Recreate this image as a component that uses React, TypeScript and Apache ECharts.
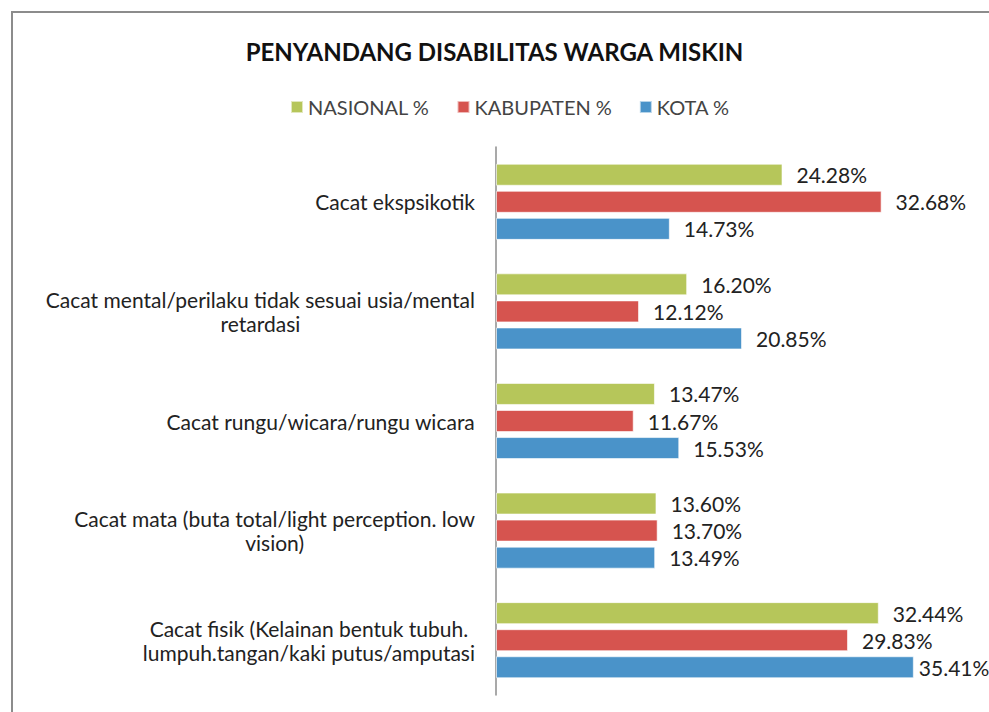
import React, { useEffect, useRef } from "react";
import * as echarts from "echarts";

const categories = [
  "Cacat ekspsikotik",
  "Cacat mental/perilaku tidak sesuai usia/mental\nretardasi",
  "Cacat rungu/wicara/rungu wicara",
  "Cacat mata (buta total/light perception. low\nvision)",
  "Cacat fisik (Kelainan bentuk tubuh.\nlumpuh.tangan/kaki putus/amputasi",
];
const seriesNames = ["NASIONAL %", "KABUPATEN %", "KOTA %"];
const nasional = [24.28, 16.2, 13.47, 13.6, 32.44];
const kabupaten = [32.68, 12.12, 11.67, 13.7, 29.83];
const kota = [14.73, 20.85, 15.53, 13.49, 35.41];
const colors = ["#B6C65A", "#D6544F", "#4A93C9"];

const FONT = "Lato, 'Noto Sans', sans-serif";
const AXIS_MAX = 40;

export default function App() {
  const ref = useRef<HTMLDivElement>(null);
  useEffect(() => {
    document.body.style.margin = "0";
    const chart = echarts.init(ref.current!, undefined, { renderer: "svg" });
    const values = [nasional, kabupaten, kota];
    chart.setOption({
      animation: false,
      backgroundColor: "#ffffff",
      textStyle: { fontFamily: FONT },
      graphic: [
        {
          type: "rect",
          shape: { x: 12, y: 12, width: 1000, height: 720 },
          style: { fill: "none", stroke: "#8c8c8c", lineWidth: 2 },
          silent: true,
        },
      ],
      title: {
        text: "PENYANDANG DISABILITAS WARGA MISKIN",
        left: "center",
        top: 34,
        textStyle: { fontFamily: FONT, fontSize: 24, fontWeight: "bold", color: "#111" },
      },
      legend: {
        top: 92,
        left: 285,
        icon: "rect",
        itemWidth: 12,
        itemHeight: 12,
        itemGap: 27,
        textStyle: { fontFamily: FONT, fontSize: 20, color: "#444" },
        data: seriesNames,
      },
      grid: { left: 496, top: 147, height: 548, right: 21, containLabel: false },
      xAxis: {
        type: "value",
        min: 0,
        max: AXIS_MAX,
        show: false,
        splitLine: { show: false },
      },
      yAxis: {
        type: "category",
        inverse: true,
        data: categories,
        axisLine: { show: true, lineStyle: { color: "#8c8c8c", width: 1.5 } },
        axisTick: { show: false },
        axisLabel: {
          margin: 21,
          align: "right",
          formatter: (v: string) => v.split("\n").map((l) => `{c|${l}}`).join("\n"),
          rich: {
            c: { align: "center", fontFamily: FONT, fontSize: 21, lineHeight: 24, color: "#222" },
          },
        },
      },
      series: seriesNames.map((name, i) => ({
        name,
        type: "bar",
        data: values[i].map((v) => (v > 35 ? { value: v, label: { distance: 5 } } : v)),
        barWidth: 22,
        barGap: "23%",
        itemStyle: { color: colors[i], borderColor: "rgba(255,255,255,0.6)", borderWidth: 1 },
        label: {
          show: true,
          position: "right",
          distance: 14,
          fontFamily: FONT,
          fontSize: 21,
          color: "#222",
          formatter: (p: any) => `${Number(p.value).toFixed(2)}%`,
        },
      })),
    });
    return () => chart.dispose();
  }, []);
  return <div ref={ref} style={{ width: 989, height: 712 }} />;
}
